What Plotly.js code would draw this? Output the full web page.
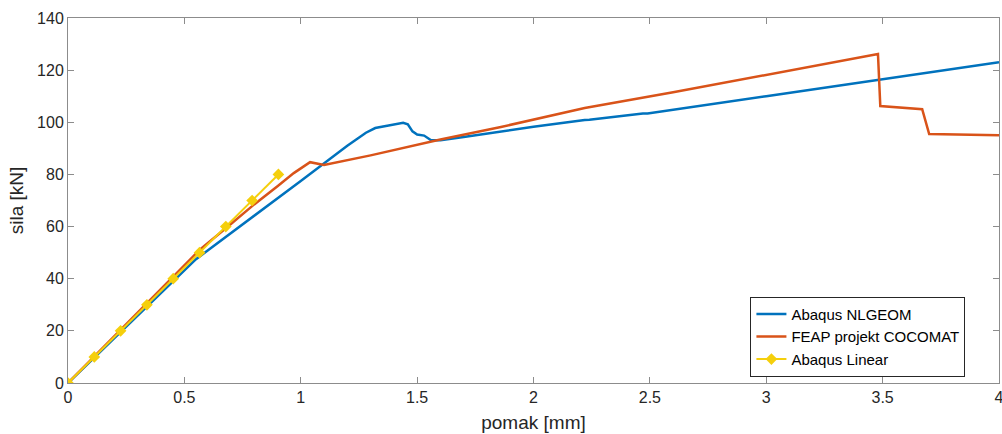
<!DOCTYPE html>
<html>
<head>
<meta charset="utf-8">
<script src="https://cdn.plot.ly/plotly-3.0.1.min.js"></script>
<style>html,body{margin:0;padding:0;background:#fff;}#chart{width:1002px;height:434px;}</style>
</head>
<body>
<div id="chart"></div>
<script>
const nlgeomX = [0, 0.1, 0.2, 0.3, 0.4, 0.452, 0.5, 0.55, 0.6, 0.8, 1.0, 1.2, 1.28, 1.32, 1.38, 1.44, 1.46, 1.48, 1.5, 1.53, 1.56, 1.6, 1.7, 1.85, 2.0, 2.22, 2.24, 2.47, 2.49, 3.0, 3.5, 4.0];
const nlgeomY = [0, 8.7, 17.4, 26, 34.6, 39, 43.5, 47.5, 50.8, 64, 77.5, 91, 96, 97.8, 98.9, 99.8, 99.2, 96.5, 95.3, 94.9, 93.1, 93.1, 94.4, 96.4, 98.3, 100.9, 101, 103.4, 103.4, 110, 116.6, 123];

const feapX = [0, 0.1, 0.2, 0.3, 0.4, 0.5, 0.565, 0.7, 0.8, 0.9, 0.97, 1.04, 1.1, 1.3, 1.6, 1.86, 2.22, 2.6, 3.0, 3.48, 3.49, 3.67, 3.7, 4.0];
const feapY = [0, 9, 18, 27, 36, 45.3, 51, 61, 68.5, 75.5, 80.5, 84.7, 83.6, 87.3, 93.4, 98.2, 105.5, 111.5, 118.2, 126.2, 106.2, 105, 95.5, 95];

const linearX = [0, 0.113, 0.226, 0.339, 0.452, 0.565, 0.678, 0.791, 0.904];
const linearY = [0, 10, 20, 30, 40, 50, 60, 70, 80];

const xTicks = [0, 0.5, 1, 1.5, 2, 2.5, 3, 3.5, 4];
const xTickText = ['0', '0.5', '1', '1.5', '2', '2.5', '3', '3.5', '4'];
const yTicks = [0, 20, 40, 60, 80, 100, 120, 140];

const FONT = 'Arial, Liberation Sans, sans-serif';

const traces = [
  {x: nlgeomX, y: nlgeomY, name: 'Abaqus NLGEOM', mode: 'lines', line: {color: '#0072BD', width: 2.5}},
  {x: feapX, y: feapY, name: 'FEAP projekt COCOMAT', mode: 'lines', line: {color: '#D95319', width: 2.5}},
  {x: linearX, y: linearY, name: 'Abaqus Linear', mode: 'lines+markers', line: {color: '#F5CF0C', width: 2}, marker: {symbol: 'diamond', size: 9, color: '#F5CF0C'}}
];

const axisCommon = {
  showline: true, linecolor: '#8c8c8c', linewidth: 1, mirror: 'ticks',
  ticks: 'inside', ticklen: 6, tickcolor: '#8c8c8c', showgrid: false, zeroline: false,
  ticklabeloverflow: 'allow',
  tickfont: {family: FONT, size: 16, color: '#262626'}
};

const layout = {
  width: 1002, height: 434,
  margin: {l: 68, r: 3, t: 18, b: 51},
  paper_bgcolor: '#fff', plot_bgcolor: '#fff',
  showlegend: true,
  xaxis: Object.assign({}, axisCommon, {
    range: [0, 4], tickvals: xTicks, ticktext: xTickText,
    title: {text: 'pomak [mm]', font: {family: FONT, size: 19, color: '#262626'}, standoff: 10}
  }),
  yaxis: Object.assign({}, axisCommon, {
    range: [0, 140], tickvals: yTicks,
    title: {text: 'sila [kN]', font: {family: FONT, size: 19, color: '#262626'}, standoff: 8}
  }),
  legend: {
    x: 0.733, y: 0.236, xanchor: 'left', yanchor: 'top',
    bgcolor: '#fff', bordercolor: '#262626', borderwidth: 1,
    font: {family: FONT, size: 15, color: '#000'},
    itemwidth: 30, tracegroupgap: 0
  }
};

Plotly.newPlot('chart', traces, layout, {displayModeBar: false, staticPlot: true});
</script>
</body>
</html>
